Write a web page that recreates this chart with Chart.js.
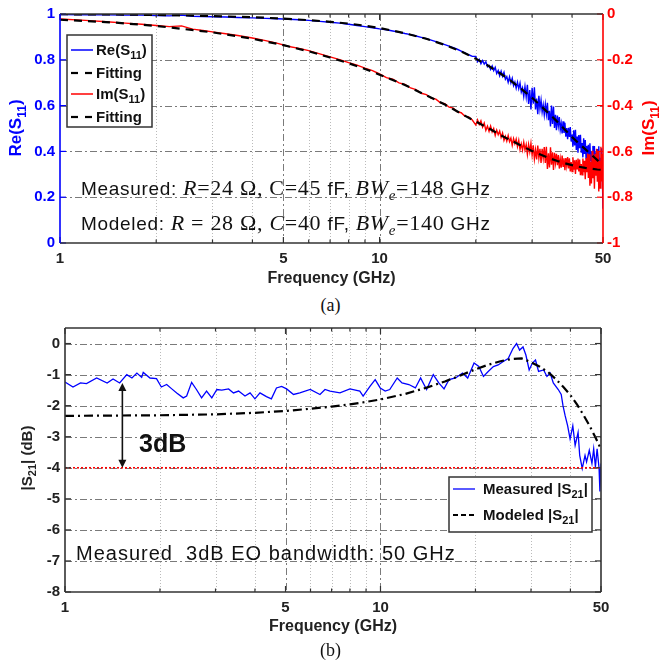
<!DOCTYPE html>
<html>
<head>
<meta charset="utf-8">
<script src="https://cdn.jsdelivr.net/npm/chart.js@4.4.0/dist/chart.umd.min.js"></script>
<style>
  body { margin: 0; background: #fff; width: 661px; height: 666px; position: relative; overflow: hidden; }
  canvas { position: absolute; left: 0; }
  #c1 { top: 0; }
  #c2 { top: 314px; }
  .cap { position: absolute; left: 0; width: 661px; text-align: center; font-family: 'Liberation Serif', 'Times New Roman', serif; font-size: 18px; line-height: 22px; color: #111; }
</style>
</head>
<body>
<canvas id="c1" width="661" height="290"></canvas>
<div class="cap" style="top:294px">(a)</div>
<canvas id="c2" width="661" height="326"></canvas>
<div class="cap" style="top:639px">(b)</div>
<script>
// ---- shared axis data ----
const xTickValues = [1, 5, 10, 50];
const xMinorTicks = [2, 3, 4, 6, 7, 8, 9, 20, 30, 40];

// ---- (a) S11 ----
const reTicks = [0, 0.2, 0.4, 0.6, 0.8, 1];
const imTicks = [-1, -0.8, -0.6, -0.4, -0.2, 0];

const s11Freq = [1, 1.2, 1.4, 1.6, 1.8, 2, 2.2, 2.4, 2.6, 2.8, 3, 3.3, 3.6, 4, 4.4, 4.8, 5.2, 5.6, 6, 6.5,
  7, 7.5, 8, 8.5, 9, 9.5, 10, 10.5, 11, 11.5, 12, 12.5, 13, 13.5, 14, 14.5, 15, 15.5, 16, 16.5,
  17, 17.5, 18, 18.5, 19, 19.5,
  20, 20.25, 20.5, 20.75, 21, 21.25, 21.5, 21.75, 22, 22.25, 22.5, 22.75, 23, 23.25, 23.5, 23.75,
  24, 24.25, 24.5, 24.75, 25, 25.25, 25.5, 25.75, 26, 26.25, 26.5, 26.75, 27, 27.25, 27.5, 27.75,
  28, 28.25, 28.5, 28.75, 29, 29.25, 29.5, 29.75,
  30, 30.25, 30.5, 30.75, 31, 31.25, 31.5, 31.75, 32, 32.25, 32.5, 32.75, 33, 33.25, 33.5, 33.75,
  34, 34.25, 34.5, 34.75, 35, 35.25, 35.5, 35.75, 36, 36.25, 36.5, 36.75, 37, 37.25, 37.5, 37.75,
  38, 38.25, 38.5, 38.75, 39, 39.25, 39.5, 39.75, 40, 40.25, 40.5, 40.75, 41, 41.25, 41.5, 41.75,
  42, 42.25, 42.5, 42.75, 43, 43.25, 43.5, 43.75, 44, 44.25, 44.5, 44.75, 45, 45.25, 45.5, 45.75,
  46, 46.25, 46.5, 46.75, 47, 47.25, 47.5, 47.75, 48, 48.25, 48.5, 48.75, 49, 49.25, 49.5, 49.75, 50];

const reS11 = [0.998, 0.997, 0.996, 0.995, 0.995, 0.993, 0.992, 0.995, 0.990, 0.989,
  0.988, 0.987, 0.985, 0.983, 0.981, 0.979, 0.977, 0.975, 0.972, 0.968,
  0.964, 0.960, 0.955, 0.950, 0.945, 0.940, 0.935, 0.931, 0.926, 0.921,
  0.915, 0.910, 0.904, 0.898, 0.892, 0.886, 0.879, 0.872, 0.866, 0.860,
  0.853, 0.846, 0.838, 0.830, 0.822, 0.815,
  0.815, 0.792, 0.802, 0.783, 0.797, 0.781, 0.791, 0.769, 0.775, 0.758, 0.773, 0.753, 0.767, 0.740, 0.753, 0.730,
  0.750, 0.728, 0.745, 0.715, 0.726, 0.702, 0.726, 0.699, 0.719, 0.687, 0.703, 0.676, 0.702, 0.674, 0.698, 0.659,
  0.677, 0.640, 0.683, 0.638, 0.691, 0.607, 0.668, 0.583,
  0.678, 0.608, 0.680, 0.583, 0.631, 0.562, 0.643, 0.585, 0.623, 0.572, 0.603, 0.560, 0.605, 0.563, 0.612, 0.536,
  0.577, 0.509, 0.600, 0.520, 0.596, 0.502, 0.560, 0.493, 0.557, 0.513, 0.550, 0.495, 0.521, 0.478, 0.531, 0.481,
  0.525, 0.464, 0.502, 0.453, 0.503, 0.463, 0.506, 0.443, 0.474, 0.420, 0.492, 0.426, 0.494, 0.406, 0.465, 0.394,
  0.471, 0.414, 0.473, 0.394, 0.436, 0.374, 0.457, 0.389, 0.450, 0.371, 0.424, 0.360, 0.429, 0.378, 0.436, 0.356,
  0.399, 0.337, 0.424, 0.346, 0.423, 0.325, 0.396, 0.310, 0.410, 0.335, 0.422, 0.309, 0.372, 0.278, 0.414, 0.295, 0.150];

const imS11 = [-0.022, -0.028, -0.034, -0.040, -0.045, -0.050, -0.055, -0.052, -0.066, -0.072,
  -0.078, -0.086, -0.094, -0.105, -0.116, -0.128, -0.142, -0.150, -0.160, -0.174,
  -0.187, -0.199, -0.212, -0.223, -0.236, -0.247, -0.262, -0.278, -0.285, -0.301,
  -0.307, -0.323, -0.330, -0.346, -0.352, -0.367, -0.372, -0.388, -0.392, -0.407,
  -0.411, -0.427, -0.431, -0.447, -0.449, -0.463,
  -0.485, -0.462, -0.482, -0.466, -0.494, -0.476, -0.508, -0.490, -0.512, -0.489, -0.515, -0.500, -0.530, -0.507, -0.527, -0.511,
  -0.539, -0.520, -0.552, -0.534, -0.555, -0.531, -0.557, -0.542, -0.573, -0.544, -0.566, -0.546, -0.579, -0.552, -0.592, -0.567,
  -0.594, -0.560, -0.594, -0.570, -0.613, -0.570, -0.602, -0.565,
  -0.616, -0.573, -0.633, -0.593, -0.635, -0.574, -0.629, -0.589, -0.650, -0.589, -0.630, -0.581, -0.650, -0.580, -0.677, -0.608,
  -0.670, -0.582, -0.658, -0.604, -0.681, -0.606, -0.650, -0.611, -0.660, -0.616, -0.675, -0.634, -0.671, -0.618, -0.665, -0.630,
  -0.682, -0.629, -0.663, -0.625, -0.674, -0.630, -0.688, -0.647, -0.688, -0.626, -0.680, -0.639, -0.699, -0.637, -0.676, -0.631,
  -0.688, -0.636, -0.704, -0.655, -0.702, -0.631, -0.691, -0.641, -0.722, -0.629, -0.691, -0.609, -0.716, -0.612, -0.750, -0.646,
  -0.740, -0.597, -0.717, -0.619, -0.763, -0.610, -0.706, -0.589, -0.733, -0.598, -0.775, -0.642, -0.760, -0.580, -0.731, -0.611, -0.781];

const fitFreq = [1, 1.5, 2, 3, 4, 5, 6, 7, 8, 9, 10, 12, 14, 16, 18, 20, 22, 24, 26, 28,
  30, 32, 34, 36, 38, 40, 42, 44, 46, 48, 50];
const reFit = [0.999, 0.998, 0.996, 0.991, 0.986, 0.980, 0.973, 0.966, 0.958, 0.949,
  0.939, 0.916, 0.892, 0.865, 0.836, 0.805, 0.772, 0.738, 0.704, 0.669,
  0.634, 0.598, 0.563, 0.529, 0.495, 0.463, 0.435, 0.410, 0.385, 0.362, 0.340];
const imFit = [-0.025, -0.038, -0.052, -0.080, -0.108, -0.136, -0.163, -0.190, -0.215, -0.240,
  -0.265, -0.310, -0.355, -0.395, -0.435, -0.470, -0.500, -0.530, -0.555, -0.578,
  -0.598, -0.615, -0.630, -0.642, -0.652, -0.660, -0.667, -0.672, -0.676, -0.679, -0.681];

// ---- (b) S21 ----
const s21Ticks = [-8, -7, -6, -5, -4, -3, -2, -1, 0];
const s21Freq = [1.00, 1.06, 1.12, 1.17, 1.26, 1.36, 1.42, 1.49, 1.57, 1.63,
  1.69, 1.75, 1.77, 1.86, 1.95, 2.02, 2.10, 2.18, 2.26, 2.37,
  2.43, 2.52, 2.61, 2.71, 2.81, 2.92, 3.03, 3.14, 3.30, 3.42,
  3.55, 3.72, 3.86, 4.00, 4.15, 4.35, 4.51, 4.68, 4.86, 5.04,
  5.30, 5.55, 5.99, 6.43, 6.67, 6.92, 7.44, 8.00, 8.60, 8.81,
  9.26, 9.62, 9.98, 10.35, 10.7, 11.3, 11.7, 12.3, 12.9, 13.4,
  14.0, 14.7, 15.3, 15.9, 16.5, 17.3, 18.2, 18.9, 19.8, 20.5,
  21.2, 21.95, 22.8, 23.6, 24.5, 25.4, 26.3, 27.0, 27.6, 28.3,
  28.9, 29.6, 30.3, 31.0, 31.7, 32.9, 33.7, 34.5, 35.3, 36.6,
  37.4, 37.9, 38.5, 39.2, 39.9, 40.7, 41.4, 42.3, 42.8, 43.6,
  44.5, 45.0, 45.9, 46.8, 47.4, 48.0, 48.6, 49.3, 49.6, 50.0];
const s21Meas = [-1.24, -1.40, -1.27, -1.29, -1.11, -1.27, -1.14, -1.27, -1.00, -1.11,
  -0.95, -1.09, -0.93, -1.11, -1.13, -1.40, -1.32, -1.46, -1.59, -1.75,
  -1.69, -1.25, -1.48, -1.75, -1.53, -1.75, -1.48, -1.50, -1.46, -1.59,
  -1.53, -1.69, -1.59, -1.78, -1.59, -1.71, -1.78, -1.43, -1.38, -1.46,
  -1.64, -1.59, -1.48, -1.64, -1.48, -1.53, -1.59, -1.46, -1.53, -1.69,
  -1.38, -1.16, -1.43, -1.53, -1.48, -1.11, -1.27, -1.32, -1.43, -1.11,
  -1.48, -1.00, -1.27, -1.46, -1.16, -1.11, -0.95, -1.11, -0.63, -0.74,
  -1.06, -0.90, -0.74, -0.69, -0.58, -0.48, -0.16, 0.00, -0.21, -0.11,
  -0.37, -0.85, -0.63, -0.53, -0.90, -0.85, -1.06, -0.95, -1.27, -1.48,
  -1.64, -2.01, -2.33, -2.65, -3.07, -2.65, -3.28, -2.86, -3.60, -4.02,
  -3.60, -3.81, -3.44, -3.86, -3.39, -3.97, -3.39, -4.02, -4.76, -3.86];
const s21ModelFreq = [1, 2, 3, 4, 5, 6, 7, 8, 9, 10, 12, 14, 16, 18, 20, 22, 24, 26, 28, 30,
  32, 34, 36, 38, 40, 42, 44, 46, 48, 50];
const s21Model = [-2.33, -2.31, -2.28, -2.23, -2.17, -2.10, -2.03, -1.96, -1.88, -1.80,
  -1.62, -1.42, -1.22, -1.02, -0.83, -0.68, -0.57, -0.50, -0.48, -0.60,
  -0.75, -0.92, -1.15, -1.40, -1.66, -1.97, -2.30, -2.65, -3.02, -3.40];
const limitFreq = [1, 50];
const limitLevel = [-4, -4];
const arrowFreq = 1.52;
const arrowTop = -1.27;
const arrowBottom = -4;

// ---- helpers ----
const SANS = "'Liberation Sans', Arial, Helvetica, sans-serif";
const SERIF = "'Liberation Serif', 'Times New Roman', serif";

const pts = (xs, ys) => xs.map((x, i) => ({ x: x, y: ys[i] }));

function drawRich(ctx, segs, x, y, align) {
  let w = 0;
  segs.forEach(s => { ctx.font = s[1]; w += ctx.measureText(s[0]).width; });
  let cx = align === 'center' ? x - w / 2 : x;
  ctx.textAlign = 'left';
  ctx.textBaseline = 'alphabetic';
  segs.forEach(s => {
    ctx.font = s[1];
    ctx.fillText(s[0], cx, y + (s[2] || 0));
    cx += ctx.measureText(s[0]).width;
  });
}

function line(ctx, x1, y1, x2, y2) {
  ctx.beginPath();
  ctx.moveTo(x1, y1);
  ctx.lineTo(x2, y2);
  ctx.stroke();
}

function drawGrid(chart, yScale, yVals) {
  const { ctx, chartArea: a } = chart;
  const xs = chart.scales.x;
  ctx.save();
  ctx.lineWidth = 1;
  ctx.strokeStyle = '#bbbbbb';
  ctx.setLineDash([1, 2]);
  xMinorTicks.forEach(v => {
    const px = Math.round(xs.getPixelForValue(v)) + 0.5;
    line(ctx, px, a.top, px, a.bottom);
  });
  ctx.strokeStyle = '#7a7a7a';
  ctx.setLineDash([7, 3, 2, 3]);
  xTickValues.slice(1, -1).forEach(v => {
    const px = Math.round(xs.getPixelForValue(v)) + 0.5;
    line(ctx, px, a.top, px, a.bottom);
  });
  yVals.forEach(v => {
    const py = Math.round(yScale.getPixelForValue(v)) + 0.5;
    if (py > a.top + 2 && py < a.bottom - 2) line(ctx, a.left, py, a.right, py);
  });
  ctx.restore();
}

function drawFrame(chart, yScale, yVals, leftColor, rightColor) {
  const { ctx, chartArea: a } = chart;
  const xs = chart.scales.x;
  ctx.save();
  ctx.setLineDash([]);
  ctx.lineWidth = 1.2;
  ctx.strokeStyle = '#333';
  xTickValues.forEach(v => {
    const px = xs.getPixelForValue(v);
    line(ctx, px, a.bottom, px, a.bottom - 6);
    line(ctx, px, a.top, px, a.top + 6);
  });
  xMinorTicks.forEach(v => {
    const px = xs.getPixelForValue(v);
    line(ctx, px, a.bottom, px, a.bottom - 3.5);
    line(ctx, px, a.top, px, a.top + 3.5);
  });
  yVals.forEach(v => {
    const py = yScale.getPixelForValue(v);
    ctx.strokeStyle = leftColor;
    line(ctx, a.left, py, a.left + 6, py);
    ctx.strokeStyle = rightColor;
    line(ctx, a.right, py, a.right - 6, py);
  });
  ctx.lineWidth = 1.6;
  ctx.strokeStyle = '#333';
  line(ctx, a.left, a.top, a.right, a.top);
  line(ctx, a.left, a.bottom, a.right, a.bottom);
  ctx.strokeStyle = leftColor;
  line(ctx, a.left, a.top, a.left, a.bottom);
  ctx.strokeStyle = rightColor;
  line(ctx, a.right, a.top, a.right, a.bottom);
  ctx.restore();
}

function legendBox(ctx, x, y, w, h, rows, rowY, sx1, sx2, tx) {
  ctx.save();
  ctx.fillStyle = '#fff';
  ctx.fillRect(x, y, w, h);
  ctx.lineWidth = 1.5;
  ctx.strokeStyle = '#333';
  ctx.strokeRect(x, y, w, h);
  rows.forEach((r, i) => {
    const cy = rowY[i];
    ctx.strokeStyle = r.color;
    ctx.lineWidth = r.width;
    ctx.setLineDash(r.dash);
    line(ctx, sx1, cy, sx2, cy);
    ctx.setLineDash([]);
    ctx.fillStyle = '#111';
    drawRich(ctx, r.label, tx, cy + 5);
  });
  ctx.restore();
}

function xTitle(chart, y) {
  const { ctx, chartArea: a } = chart;
  ctx.save();
  ctx.fillStyle = '#222';
  ctx.font = 'bold 16px ' + SANS;
  ctx.textAlign = 'center';
  ctx.textBaseline = 'middle';
  ctx.fillText('Frequency (GHz)', (a.left + a.right) / 2, y);
  ctx.restore();
}

function rotatedTitle(ctx, segs, cx, cy, color) {
  ctx.save();
  ctx.translate(cx, cy);
  ctx.rotate(-Math.PI / 2);
  ctx.fillStyle = color;
  drawRich(ctx, segs, 0, 6, 'center');
  ctx.restore();
}

const tickFont = { family: SANS, size: 15, weight: 'bold' };

const xScaleBase = (h) => ({
  type: 'logarithmic',
  min: 1,
  max: 50,
  grid: { display: false, drawTicks: false },
  border: { display: false },
  afterBuildTicks: s => { s.ticks = xTickValues.map(v => ({ value: v })); },
  afterFit: s => { s.height = h; },
  ticks: {
    autoSkip: false,
    maxRotation: 0,
    padding: 7,
    color: '#222',
    font: tickFont,
    callback: v => String(v)
  }
});

// ---- chart (a) ----
const topDecor = {
  id: 'topDecor',
  beforeDatasetsDraw(chart) {
    drawGrid(chart, chart.scales.y, reTicks);
  },
  afterDatasetsDraw(chart) {
    const ctx = chart.ctx;
    drawFrame(chart, chart.scales.y, reTicks, '#0000ff', '#ff0000');
    const B = 'bold 15px ' + SANS, Bs = 'bold 11px ' + SANS;
    legendBox(ctx, 67, 35, 85, 92, [
      { color: '#0000ff', width: 1.5, dash: [], label: [['Re(S', B], ['11', Bs, 4], [')', B]] },
      { color: '#000', width: 2.2, dash: [7, 7], label: [['Fitting', B]] },
      { color: '#ff0000', width: 1.5, dash: [], label: [['Im(S', B], ['11', Bs, 4], [')', B]] },
      { color: '#000', width: 2.2, dash: [7, 7], label: [['Fitting', B]] }
    ], [50, 73, 94, 117], 71, 93, 96);

    const S = '19px ' + SANS, R = '22px ' + SERIF, I = 'italic 22px ' + SERIF, Is = 'italic 15px ' + SERIF;
    ctx.save();
    ctx.fillStyle = '#111';
    ctx.letterSpacing = '0.7px';
    drawRich(ctx, [['Measured: ', S], ['R', I], ['=24 Ω, C=45 ', R], ['fF, ', S], ['BW', I], ['e', Is, 5],
      ['=148 ', R], ['GHz', S]], 81, 195);
    drawRich(ctx, [['Modeled: ', S], ['R', I], [' = 28 Ω, ', R], ['C', I], ['=40 ', R], ['fF, ', S], ['BW', I],
      ['e', Is, 5], ['=140 ', R], ['GHz', S]], 81, 230);
    ctx.restore();

    const T = 'bold 17px ' + SANS, Ts = 'bold 12px ' + SANS;
    rotatedTitle(ctx, [['Re(S', T], ['11', Ts, 5], [')', T]], 15, 128, '#0000ff');
    rotatedTitle(ctx, [['Im(S', T], ['11', Ts, 5], [')', T]], 648, 128, '#ff0000');
    xTitle(chart, 279);
  }
};

new Chart(document.getElementById('c1'), {
  type: 'line',
  data: {
    datasets: [
      { data: pts(fitFreq, reFit), yAxisID: 'y', borderColor: '#000', borderWidth: 2.2, borderDash: [8, 6] },
      { data: pts(fitFreq, imFit), yAxisID: 'y2', borderColor: '#000', borderWidth: 2.2, borderDash: [8, 6] },
      { data: pts(s11Freq, imS11), yAxisID: 'y2', borderColor: '#ff0000', borderWidth: 1.4 },
      { data: pts(s11Freq, reS11), yAxisID: 'y', borderColor: '#0000ff', borderWidth: 1.4 }
    ]
  },
  options: {
    responsive: false,
    animation: false,
    devicePixelRatio: 1,
    layout: { padding: { top: 12, left: 0, right: 0, bottom: 0 } },
    elements: { point: { radius: 0 }, line: { tension: 0, fill: false } },
    plugins: { legend: { display: false }, tooltip: { enabled: false } },
    scales: {
      x: xScaleBase(47),
      y: {
        position: 'left',
        min: 0,
        max: 1,
        grid: { display: false, drawTicks: false },
        border: { display: false },
        afterBuildTicks: s => { s.ticks = reTicks.map(v => ({ value: v })); },
        afterFit: s => { s.width = 60; },
        ticks: {
          padding: 5,
          color: '#0000ff',
          font: tickFont,
          callback: v => String(+v.toFixed(1))
        }
      },
      y2: {
        position: 'right',
        min: -1,
        max: 0,
        grid: { display: false, drawTicks: false },
        border: { display: false },
        afterBuildTicks: s => { s.ticks = imTicks.map(v => ({ value: v })); },
        afterFit: s => { s.width = 58; },
        ticks: {
          padding: 4,
          color: '#ff0000',
          font: tickFont,
          callback: v => String(+v.toFixed(1))
        }
      }
    }
  },
  plugins: [topDecor]
});

// ---- chart (b) ----
const bottomDecor = {
  id: 'bottomDecor',
  beforeDatasetsDraw(chart) {
    drawGrid(chart, chart.scales.y, s21Ticks);
  },
  afterDatasetsDraw(chart) {
    const ctx = chart.ctx;
    const xs = chart.scales.x, ys = chart.scales.y;
    drawFrame(chart, ys, s21Ticks, '#333', '#333');

    // 3 dB arrow
    const ax = xs.getPixelForValue(arrowFreq);
    const y1 = ys.getPixelForValue(arrowTop), y2 = ys.getPixelForValue(arrowBottom);
    ctx.save();
    ctx.strokeStyle = '#111';
    ctx.fillStyle = '#111';
    ctx.lineWidth = 1.6;
    line(ctx, ax, y1 + 4, ax, y2 - 4);
    ctx.beginPath();
    ctx.moveTo(ax, y1); ctx.lineTo(ax - 4, y1 + 8); ctx.lineTo(ax + 4, y1 + 8); ctx.closePath(); ctx.fill();
    ctx.beginPath();
    ctx.moveTo(ax, y2); ctx.lineTo(ax - 4, y2 - 8); ctx.lineTo(ax + 4, y2 - 8); ctx.closePath(); ctx.fill();
    ctx.font = 'bold 25px ' + SANS;
    ctx.textAlign = 'left';
    ctx.textBaseline = 'alphabetic';
    ctx.fillText('3dB', 139, 138);
    ctx.font = '20px ' + SANS;
    ctx.letterSpacing = '1px';
    ctx.fillText('Measured  3dB EO bandwidth: 50 GHz', 76, 246);
    ctx.restore();

    const B = 'bold 15px ' + SANS, Bs = 'bold 11px ' + SANS;
    legendBox(ctx, 449, 163, 143, 55, [
      { color: '#0000ff', width: 1.3, dash: [], label: [['Measured |S', B], ['21', Bs, 4], ['|', B]] },
      { color: '#000', width: 2.2, dash: [5, 3], label: [['Modeled |S', B], ['21', Bs, 4], ['|', B]] }
    ], [175, 201], 453, 475, 483);

    const T = 'bold 15px ' + SANS, Ts = 'bold 11px ' + SANS;
    rotatedTitle(ctx, [['|S', T], ['21', Ts, 4], ['| (dB)', T]], 26, 144, '#222');
    xTitle(chart, 313);
  }
};

new Chart(document.getElementById('c2'), {
  type: 'line',
  data: {
    datasets: [
      { data: pts(s21ModelFreq, s21Model), borderColor: '#000', borderWidth: 2.2, borderDash: [9, 4, 2, 4] },
      { data: pts(limitFreq, limitLevel), borderColor: '#ff0000', borderWidth: 1.6, borderDash: [2, 2] },
      { data: pts(s21Freq, s21Meas), borderColor: '#0000ff', borderWidth: 1.3 }
    ]
  },
  options: {
    responsive: false,
    animation: false,
    devicePixelRatio: 1,
    layout: { padding: { top: 10, left: 0, right: 60, bottom: 0 } },
    elements: { point: { radius: 0 }, line: { tension: 0, fill: false } },
    plugins: { legend: { display: false }, tooltip: { enabled: false } },
    scales: {
      x: xScaleBase(48),
      y: {
        min: -8,
        max: 0.5,
        grid: { display: false, drawTicks: false },
        border: { display: false },
        afterBuildTicks: s => { s.ticks = s21Ticks.map(v => ({ value: v })); },
        afterFit: s => { s.width = 65; },
        ticks: {
          padding: 5,
          color: '#222',
          font: tickFont,
          callback: v => String(v)
        }
      }
    }
  },
  plugins: [bottomDecor]
});
</script>
</body>
</html>
